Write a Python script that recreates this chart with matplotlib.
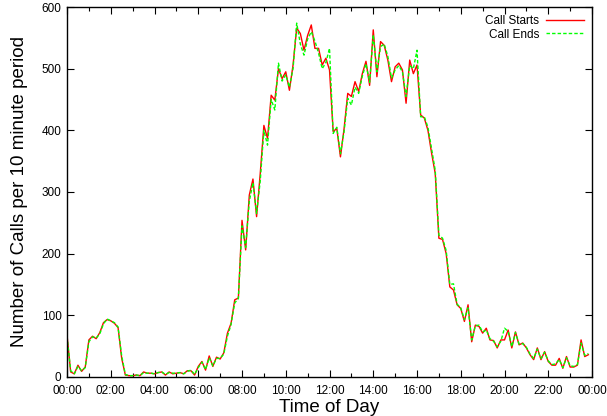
import numpy as np
import matplotlib
matplotlib.use("Agg")
import matplotlib.pyplot as plt
from matplotlib.ticker import MultipleLocator

# calls per 10 minute slot, 00:00 .. 23:50
call_starts = [
    68, 8, 5, 19, 9, 16, 60, 66, 62, 72, 88, 93, 91, 87, 80, 30, 3, 2,
    2, 3, 2, 8, 6, 6, 5, 7, 8, 3, 8, 5, 6, 7, 5, 10, 10, 3,
    17, 25, 11, 34, 17, 32, 29, 39, 71, 87, 125, 128, 254, 206, 295, 321, 260, 330,
    408, 387, 457, 449, 500, 484, 495, 465, 506, 566, 557, 530, 554, 571, 533, 533,
    506, 517, 498, 398, 403, 357, 403, 460, 455, 479, 463, 492, 512, 473, 563, 487,
    544, 538, 514, 479, 503, 509, 498, 444, 514, 492, 506, 425, 420, 400, 363, 330,
    225, 223, 200, 146, 141, 117, 111, 90, 117, 57, 84, 82, 71, 79, 60, 59,
    47, 60, 60, 76, 47, 73, 52, 55, 47, 36, 28, 47, 28, 41, 25, 19,
    19, 30, 14, 33, 16, 16, 19, 60, 33, 36,
]
call_ends = [
    66, 10, 5, 17, 10, 15, 57, 65, 63, 70, 86, 94, 91, 88, 81, 34, 4, 2,
    2, 3, 2, 7, 6, 6, 5, 7, 8, 4, 7, 6, 6, 7, 5, 9, 11, 4,
    15, 24, 12, 31, 18, 30, 30, 37, 66, 85, 120, 127, 245, 210, 285, 315, 265, 318,
    400, 376, 450, 433, 509, 480, 490, 470, 500, 574, 540, 522, 548, 560, 545, 525,
    500, 510, 533, 395, 405, 362, 398, 452, 441, 470, 460, 488, 508, 478, 555, 495,
    536, 540, 520, 485, 498, 505, 495, 455, 505, 500, 530, 422, 422, 405, 370, 335,
    230, 225, 205, 150, 151, 118, 112, 93, 112, 60, 83, 84, 73, 76, 62, 58,
    49, 58, 79, 74, 49, 72, 53, 54, 48, 37, 30, 45, 30, 40, 26, 20,
    21, 28, 15, 31, 18, 17, 20, 55, 35, 38,
]
hours = np.arange(len(call_starts)) / 6.0
hour_ticks = list(range(0, 25, 2))
hour_labels = [f"{h % 24:02d}:00" for h in hour_ticks]

plt.rcParams['font.family'] = ['Liberation Sans', 'DejaVu Sans']

fig = plt.figure(figsize=(6.07, 4.16), dpi=100)
ax = fig.add_axes([0.1104, 0.094, 0.8649, 0.889])

ax.plot(hours, call_starts, color='#ff0000', lw=1.0, label='Call Starts')
ax.plot(hours, call_ends, color='#00ff00', lw=1.0, ls=(0, (2.5, 1.5)), label='Call Ends')

ax.set_xlim(0, 24)
ax.set_ylim(0, 600)
ax.set_xticks(hour_ticks)
ax.set_xticklabels(hour_labels)
ax.xaxis.set_minor_locator(MultipleLocator(1))
ax.set_yticks(range(0, 601, 100))

ax.tick_params(which='both', direction='in', top=True, right=True, labelsize=8.5)
ax.tick_params(axis='x', pad=6)
ax.tick_params(axis='y', pad=4)
ax.tick_params(which='major', length=5, width=0.8)
ax.tick_params(which='minor', length=3, width=0.8)
for s in ax.spines.values():
    s.set_linewidth(1.0)

ax.set_xlabel('Time of Day', fontsize=13.5, labelpad=1)
ax.set_ylabel('Number of Calls per 10 minute period', fontsize=13.5, labelpad=10)

ax.legend(loc='upper right', frameon=False, markerfirst=False, fontsize=8.5,
          handlelength=3.2, handletextpad=0.6, labelspacing=0.1,
          borderaxespad=0.3)

fig.savefig('out.png', dpi=100)
